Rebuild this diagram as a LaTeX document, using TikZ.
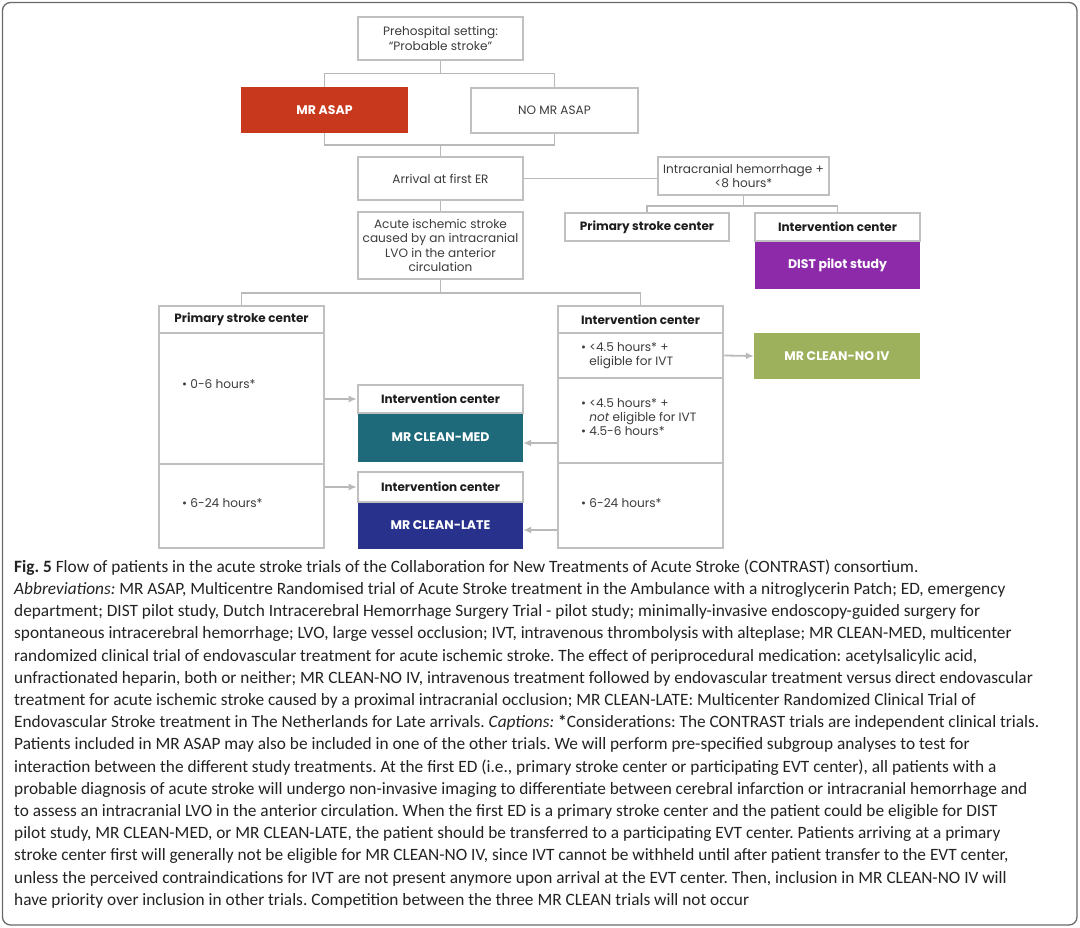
\documentclass[tikz,border=0pt]{standalone}
\usepackage{fontspec}
\setmainfont{Carlito}
\newfontfamily\diag{Poppins}
\usetikzlibrary{arrows.meta,calc}
\definecolor{bgray}{RGB}{192,192,192}
\definecolor{cgray}{RGB}{185,185,185}
\definecolor{tgray}{RGB}{60,60,60}
\definecolor{hgray}{RGB}{30,30,30}
\definecolor{framegray}{RGB}{105,105,105}
\definecolor{captxt}{RGB}{35,35,35}
\definecolor{asapred}{RGB}{200,56,28}
\definecolor{distpurple}{RGB}{140,42,170}
\definecolor{noivgreen}{RGB}{157,177,92}
\definecolor{medteal}{RGB}{30,106,122}
\definecolor{latenavy}{RGB}{40,50,140}
\tikzset{
  box/.style={draw=bgray, line width=2.6pt, fill=white, inner sep=0pt, align=center,
    text=tgray, font=\diag\fontsize{12.1}{14.4}\selectfont},
  hdr/.style={box, text=hgray, font=\diag\bfseries\fontsize{12}{14}\selectfont},
  trial/.style={draw=none, fill=#1, inner sep=0pt, align=center, text=white,
    font=\diag\bfseries\fontsize{12.5}{14}\selectfont},
  bul/.style={inner sep=0pt, align=left, text=tgray, font=\diag\fontsize{12.1}{14.2}\selectfont},
  conn/.style={draw=cgray, line width=1.8pt},
  arr/.style={conn, -{Latex[length=8pt,width=7pt]}},
  captext/.style={anchor=base west, inner sep=0pt, text=captxt, font=\fontsize{17.3}{22}\selectfont\frenchspacing},
}
\begin{document}
\begin{tikzpicture}[x=1pt,y=-1pt]
\useasboundingbox (0,0) rectangle (1080,928);
\fill[white] (0,0) rectangle (1080,928);
\draw[framegray, line width=1.3pt, rounded corners=8pt] (2.5,2.5) rectangle (1077,925);

% top part
\node[box, minimum width=165, minimum height=43] (pre) at (440.5,38.5) {Prehospital setting:\\“Probable stroke”};
\node[trial=asapred, minimum width=167, minimum height=46] (asap) at (324.5,110) {MR ASAP};
\node[box, minimum width=167, minimum height=45] (noasap) at (554.5,110.5) {NO MR ASAP};
\node[box, minimum width=165, minimum height=43] (arrival) at (440.5,178.5) {Arrival at first ER};
\node[box, minimum width=171, minimum height=38] (ich) at (743.5,176) {Intracranial hemorrhage +\\<8 hours*};
\node[hdr, minimum width=164, minimum height=28] (psc1) at (647,227) {Primary stroke center};
\node[trial=distpurple, minimum width=165, minimum height=48] (dist) at (837.5,265) {DIST pilot study};
\node[hdr, minimum width=165, minimum height=28] (ic1) at (837.5,227) {Intervention center};
\node[box, minimum width=165, minimum height=67] (acute) at (440.5,245.5) {Acute ischemic stroke\\caused by an intracranial\\LVO in the anterior\\circulation};

% left column
\node[box, minimum width=165, minimum height=131] (pscA) at (241.5,398.5) {};
\node[box, minimum width=165, minimum height=84] (pscB) at (241.5,506) {};
\node[hdr, minimum width=165, minimum height=27] (pscH) at (241.5,319.5) {Primary stroke center};
\node[bul, anchor=west] (tA) at (182,384) {• 0-6 hours*};
\node[bul, anchor=west] (tB) at (182,503) {• 6-24 hours*};

% right column
\node[box, minimum width=165, minimum height=45] (icA) at (640.5,355.5) {};
\node[box, minimum width=165, minimum height=85] (icB) at (640.5,420.5) {};
\node[box, minimum width=165, minimum height=85] (icC) at (640.5,505.5) {};
\node[hdr, minimum width=165, minimum height=27] (icH) at (640.5,319.5) {Intervention center};
\node[bul, anchor=west] (tC) at (581,355.5) {• <4.5 hours* +\\\hphantom{• }eligible for IVT};
\node[bul, anchor=west] (tD) at (581,417) {• <4.5 hours* +\\\hphantom{• }\textit{not} eligible for IVT\\• 4.5-6 hours*};
\node[bul, anchor=west] (tE) at (581,503) {• 6-24 hours*};
\node[trial=noivgreen, minimum width=166, minimum height=46] (noiv) at (837,356) {MR CLEAN-NO IV};

% middle trials
\node[trial=medteal, minimum width=165, minimum height=49] (med) at (440.5,437.5) {MR CLEAN-MED};
\node[hdr, minimum width=165, minimum height=28] (medH) at (440.5,399) {Intervention center};
\node[trial=latenavy, minimum width=165, minimum height=47] (late) at (440.5,525.5) {MR CLEAN-LATE};
\node[hdr, minimum width=165, minimum height=30] (lateH) at (440.5,487) {Intervention center};

% connectors
\coordinate (j1) at (440.5,73.5);
\coordinate (j2) at (440.5,145);
\coordinate (j3) at (743.5,206);
\coordinate (j4) at (440.5,293);
\draw[conn] (pre.south) -- (j1);
\draw[conn] (asap.north) |- (j1) -| (noasap.north);
\draw[conn] (asap.south) |- (j2) -| (noasap.south);
\draw[conn] (j2) -- (arrival.north);
\draw[conn] (arrival.south) -- (acute.north);
\draw[conn] (arrival.east) -- (arrival.east -| ich.west);
\draw[conn] (ich.south) -- (j3);
\draw[conn] (psc1.north) |- (j3) -| (ic1.north);
\draw[conn] (acute.south) -- (j4);
\draw[conn] (pscH.north) |- (j4) -| (icH.north);
\draw[arr] (pscA.east |- medH.west) -- (medH.west);
\draw[arr] (pscB.east |- lateH.west) -- (lateH.west);
\draw[arr] (icB.west |- 0,443) -- (med.east |- 0,443);
\draw[arr] (icC.west |- 0,530) -- (late.east |- 0,530);
\draw[arr] (icA.east) -- (noiv.west);

% caption
\node[captext] (c1) at (14,572.3) {\textbf{Fig. 5} Flow of patients in the acute stroke trials of the Collaboration for New Treatments of Acute Stroke (CONTRAST) consortium.};
\node[captext] (c2) at (14,594.5) {\textit{Abbreviations:} MR ASAP, Multicentre Randomised trial of Acute Stroke treatment in the Ambulance with a nitroglycerin Patch; ED, emergency};
\node[captext] (c3) at (14,616.7) {department; DIST pilot study, Dutch Intracerebral Hemorrhage Surgery Trial - pilot study; minimally-invasive endoscopy-guided surgery for};
\node[captext] (c4) at (14,638.9) {spontaneous intracerebral hemorrhage; LVO, large vessel occlusion; IVT, intravenous thrombolysis with alteplase; MR CLEAN-MED, multicenter};
\node[captext] (c5) at (14,661.1) {randomized clinical trial of endovascular treatment for acute ischemic stroke. The effect of periprocedural medication: acetylsalicylic acid,};
\node[captext] (c6) at (14,683.3) {unfractionated heparin, both or neither; MR CLEAN-NO IV, intravenous treatment followed by endovascular treatment versus direct endovascular};
\node[captext] (c7) at (14,705.5) {treatment for acute ischemic stroke caused by a proximal intracranial occlusion; MR CLEAN-LATE: Multicenter Randomized Clinical Trial of};
\node[captext] (c8) at (14,727.7) {Endovascular Stroke treatment in The Netherlands for Late arrivals. \textit{Captions:} \textbf{*}Considerations: The CONTRAST trials are independent clinical trials.};
\node[captext] (c9) at (14,749.9) {Patients included in MR ASAP may also be included in one of the other trials. We will perform pre-specified subgroup analyses to test for};
\node[captext] (c10) at (14,772.1) {interaction between the different study treatments. At the first ED (i.e., primary stroke center or participating EVT center), all patients with a};
\node[captext] (c11) at (14,794.3) {probable diagnosis of acute stroke will undergo non-invasive imaging to differentiate between cerebral infarction or intracranial hemorrhage and};
\node[captext] (c12) at (14,816.5) {to assess an intracranial LVO in the anterior circulation. When the first ED is a primary stroke center and the patient could be eligible for DIST};
\node[captext] (c13) at (14,838.7) {pilot study, MR CLEAN-MED, or MR CLEAN-LATE, the patient should be transferred to a participating EVT center. Patients arriving at a primary};
\node[captext] (c14) at (14,860.9) {stroke center first will generally not be eligible for MR CLEAN-NO IV, since IVT cannot be withheld until after patient transfer to the EVT center,};
\node[captext] (c15) at (14,883.1) {unless the perceived contraindications for IVT are not present anymore upon arrival at the EVT center. Then, inclusion in MR CLEAN-NO IV will};
\node[captext] (c16) at (14,905.3) {have priority over inclusion in other trials. Competition between the three MR CLEAN trials will not occur};
\end{tikzpicture}
\end{document}
